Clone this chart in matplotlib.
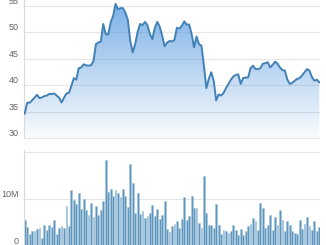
import numpy as np
import matplotlib.pyplot as plt

# closing price per trading day
price = [34.7, 36.75, 36.75, 37.2, 37.7, 38.25, 37.6, 37.75, 38.0, 38.1,
         38.4, 38.4, 38.5, 38.1, 37.7, 36.8, 37.7, 38.5, 38.6, 39.9,
         41.4, 41.1, 43.25, 43.4, 44.0, 43.8, 43.75, 43.8, 44.6, 47.8,
         48.1, 48.3, 51.6, 49.7, 49.6, 51.9, 53.1, 55.4, 54.4, 54.6,
         54.6, 53.75, 52.4, 48.4, 46.25, 47.8, 50.1, 51.6, 51.4, 52.0,
         51.4, 49.7, 48.75, 50.9, 52.0, 51.1, 49.4, 47.4, 48.1, 48.4,
         48.3, 48.6, 50.9, 50.75, 51.25, 52.1, 51.5, 51.5, 49.7, 47.2,
         49.25, 47.8, 47.5, 43.75, 39.5, 41.25, 42.5, 40.9, 37.2, 38.3,
         38.1, 38.6, 39.5, 40.3, 41.1, 41.7, 42.0, 42.1, 40.3, 41.4,
         41.5, 41.5, 43.25, 43.75, 43.1, 43.1, 43.25, 44.1, 44.2, 44.4,
         43.4, 43.9, 44.5, 44.1, 43.4, 42.9, 42.8, 41.1, 40.3, 40.5,
         40.9, 41.25, 41.4, 41.9, 42.5, 43.1, 42.8, 41.6, 40.9, 41.1,
         40.6]

# volume in millions
volume = [5.5, 4.1, 2.6, 3.2, 3.2, 3.6, 3.8, 1.8, 4.5, 3.4,
          4.5, 4.1, 5.5, 2.5, 3.9, 4.3, 3.8, 8.5, 4.3, 11.9,
          9.8, 8.9, 11.2, 7.9, 10.0, 7.7, 6.5, 9.1, 6.2, 8.5,
          6.7, 7.7, 9.5, 18.2, 11.5, 12.1, 10.7, 11.9, 11.2, 10.4,
          12.1, 10.7, 8.2, 17.4, 13.4, 7.1, 11.2, 6.9, 7.4, 6.0,
          6.4, 7.1, 8.7, 6.3, 7.9, 5.7, 6.6, 9.6, 3.6, 2.9,
          4.3, 4.7, 5.3, 3.8, 5.8, 10.4, 5.6, 6.4, 10.6, 8.1,
          8.1, 4.9, 3.9, 14.9, 7.1, 4.5, 4.5, 3.8, 8.9, 4.5,
          2.5, 3.4, 3.1, 2.8, 3.1, 4.5, 3.3, 2.4, 3.6, 2.3,
          3.1, 4.3, 4.7, 6.0, 5.3, 3.4, 9.1, 8.1, 3.9, 4.4,
          6.5, 3.4, 6.1, 4.4, 7.6, 5.6, 3.1, 5.3, 4.5, 3.1,
          2.8, 2.5, 5.5, 3.6, 4.7, 6.2, 4.3, 3.4, 5.3, 3.1,
          4.0]

price_ticks = [30, 35, 40, 45, 50, 55]
price_labels = ["30", "35", "40", "45", "50", "55"]
volume_ticks = [0, 10, 20]
volume_labels = ["0", "10M", ""]

W, H = 326, 245
grid_c = "#e6e6e6"
label_c = "#666666"
plt.rcParams["font.family"] = ["Liberation Sans", "DejaVu Sans"]

x = np.arange(len(price))
fig = plt.figure(figsize=(W / 100, H / 100), dpi=100)
ax1 = fig.add_axes([24 / W, (H - 138.5) / H, 296 / W, 138.5 / H])
ax2 = fig.add_axes([24 / W, -1 / H, 296 / W, 96 / H])

xlim = (-0.3, len(price) - 0.7)
for ax in (ax1, ax2):
    ax.set_xlim(*xlim)
    ax.set_xticks([])
    for s in ("top", "right", "bottom"):
        ax.spines[s].set_visible(False)
    ax.spines["left"].set_color("#d9d9d9")
    ax.spines["left"].set_linewidth(0.8)
    ax.yaxis.grid(True, color=grid_c, linewidth=0.8)
    ax.set_axisbelow(True)
    ax.tick_params(axis="y", length=0, pad=4, labelcolor=label_c, labelsize=6.5)
    ax.patch.set_alpha(0)

# price panel
ylo, yhi = 30, 56.13
ax1.set_ylim(ylo, yhi)
ax1.set_yticks(price_ticks)
ax1.set_yticklabels(price_labels)
plt.setp(ax1.get_yticklabels(), va="bottom")

# gradient under the line
grad = np.linspace(1, 0, 256)[:, None]
rgba = np.zeros((256, 1, 4))
rgba[..., 0] = 0.30
rgba[..., 1] = 0.58
rgba[..., 2] = 0.87
rgba[..., 3] = 0.03 + 0.72 * grad
im = ax1.imshow(rgba, extent=[xlim[0], xlim[1], ylo, yhi], aspect="auto",
                origin="upper", zorder=1)
poly = ax1.fill_between(x, price, ylo, color="none")
im.set_clip_path(poly.get_paths()[0], transform=ax1.transData)
ax1.plot(x, price, color="#4181b5", linewidth=1.4, solid_joinstyle="round", zorder=3)

# volume panel
ax2.set_ylim(0, 96 / 4.7)
ax2.bar(x, volume, width=0.75, color="#5f96bd", edgecolor="#a8c7de", linewidth=0.4, zorder=2)
ax2.set_yticks(volume_ticks)
ax2.set_yticklabels(volume_labels)
plt.setp(ax2.get_yticklabels(), va="bottom")

fig.savefig("out.png", dpi=100)
